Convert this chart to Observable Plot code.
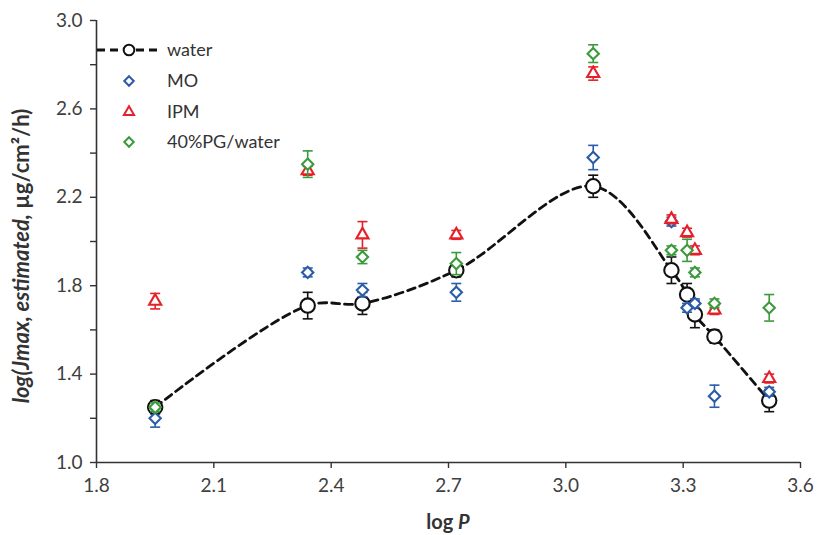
<!DOCTYPE html>
<html><head><meta charset="utf-8">
<script src="https://cdn.jsdelivr.net/npm/d3@7"></script>
<script src="https://cdn.jsdelivr.net/npm/@observablehq/plot@0.6"></script>
<style>
body{margin:0;background:#fff;}
#chart{width:823px;height:535px;}
</style>
</head><body><div id="chart"></div>
<script>
const logP = [1.95, 2.34, 2.48, 2.72, 3.07, 3.27, 3.31, 3.33, 3.38, 3.52];
const water = [1.25, 1.71, 1.72, 1.87, 2.25, 1.87, 1.76, 1.67, 1.57, 1.28];
const waterErr = [0.03, 0.06, 0.05, 0.03, 0.05, 0.06, 0.05, 0.06, 0.03, 0.05];
const mo = [1.20, 1.86, 1.78, 1.77, 2.38, 2.09, 1.70, 1.72, 1.30, 1.32];
const moErr = [0.04, 0.02, 0.03, 0.04, 0.055, 0.02, 0.02, 0.02, 0.05, 0.02];
const ipm = [1.73, 2.32, 2.03, 2.03, 2.76, 2.10, 2.04, 1.96, 1.69, 1.38];
const ipmErr = [0.035, 0.02, 0.06, 0.02, 0.03, 0.02, 0.02, 0.02, 0.02, 0.02];
const pg = [1.25, 2.35, 1.93, 1.90, 2.85, 1.96, 1.96, 1.86, 1.72, 1.70];
const pgErr = [0.02, 0.06, 0.03, 0.05, 0.04, 0.02, 0.05, 0.02, 0.02, 0.06];
const seriesNames = ["water", "MO", "IPM", "40%PG/water"];
const xTicks = [1.8, 2.1, 2.4, 2.7, 3.0, 3.3, 3.6];
const yTicks = [1.0, 1.4, 1.8, 2.2, 2.6, 3.0];
const yMinor = [1.2, 1.6, 2.0, 2.4, 2.8];

const colors = {water: "#111111", MO: "#2b5ca8", IPM: "#e5202a", "40%PG/water": "#3b9a3b"};
const symbols = {water: "circle", MO: "diamond2", IPM: "triangle2", "40%PG/water": "diamond2"};
const radii = {water: 7.2, MO: 5.1, IPM: 5.8, "40%PG/water": 5.1};
const FONT = "Lato, 'Open Sans', sans-serif";

function rows(name, vals, errs) {
  return logP.map((x, i) => ({series: name, x, y: vals[i], lo: vals[i] - errs[i], hi: vals[i] + errs[i]}));
}
const all = [
  rows("water", water, waterErr),
  rows("MO", mo, moErr),
  rows("IPM", ipm, ipmErr),
  rows("40%PG/water", pg, pgErr)
];

const cap = {draw(ctx) { ctx.moveTo(-5, 0); ctx.lineTo(5, 0); }};

const marks = [
  Plot.ruleX([1.8], {stroke: "#333", strokeWidth: 1.6}),
  Plot.ruleY([1.0], {stroke: "#333", strokeWidth: 1.6}),
  Plot.axisX({ticks: xTicks, tickFormat: ".1f", tickSize: 6, tickPadding: 10, stroke: "#333", strokeWidth: 1.4, label: null}),
  Plot.axisY({ticks: yTicks, tickFormat: ".1f", tickSize: 6, tickPadding: 8, stroke: "#333", strokeWidth: 1.4, label: null}),
  Plot.axisY({ticks: yMinor, tickFormat: () => "", tickSize: 6, stroke: "#333", strokeWidth: 1.4, label: null}),
  Plot.line(all[0], {x: "x", y: "y", curve: "catmull-rom", stroke: "#111", strokeWidth: 2.8, strokeDasharray: "8,5"})
];
for (const data of all) {
  const name = data[0].series;
  const c = colors[name];
  marks.push(
    Plot.ruleX(data, {x: "x", y1: "lo", y2: "hi", stroke: c, strokeWidth: 1.6}),
    Plot.dot(data, {x: "x", y: "lo", symbol: cap, stroke: c, strokeWidth: 1.6}),
    Plot.dot(data, {x: "x", y: "hi", symbol: cap, stroke: c, strokeWidth: 1.6}),
    Plot.dot(data, {x: "x", y: "y", symbol: symbols[name], r: radii[name], stroke: c, fill: "white", strokeWidth: 2.1})
  );
}

const plot = Plot.plot({
  width: 823,
  height: 535,
  marginLeft: 96,
  marginRight: 23,
  marginTop: 20,
  marginBottom: 73,
  style: {fontFamily: FONT, fontSize: "19px", color: "#404040", background: "white"},
  x: {domain: [1.8, 3.6]},
  y: {domain: [1.0, 3.0]},
  marks
});
document.getElementById("chart").appendChild(plot);

const svg = d3.select(plot);

// axis titles
svg.append("text")
  .attr("x", 448).attr("y", 529)
  .attr("text-anchor", "middle")
  .attr("font-family", FONT)
  .attr("font-size", 20).attr("font-weight", "bold").attr("fill", "#333")
  .html('log <tspan font-style="italic">P</tspan>');
svg.append("text")
  .attr("transform", "translate(29,256) rotate(-90)")
  .attr("text-anchor", "middle")
  .attr("font-family", FONT)
  .attr("font-size", 22).attr("font-weight", "bold").attr("fill", "#333")
  .html('<tspan font-style="italic">log(Jmax, estimated,</tspan> µg/cm²/h)');

// legend
const lg = svg.append("g").attr("font-family", FONT).attr("font-size", 18).attr("fill", "#333").attr("text-anchor", "start");
const rowsY = [50, 81, 112, 142];
seriesNames.forEach((name, i) => {
  const y = rowsY[i];
  if (name === "water") {
    lg.append("line").attr("x1", 97).attr("x2", 161).attr("y1", y).attr("y2", y)
      .attr("stroke", "#111").attr("stroke-width", 2.8).attr("stroke-dasharray", "8,5");
  }
  const sym = {circle: d3.symbolCircle, diamond2: d3.symbolDiamond2, triangle2: d3.symbolTriangle2}[symbols[name]];
  lg.append("path").attr("transform", `translate(129,${y})`)
    .attr("d", d3.symbol(sym, Math.PI * radii[name] * radii[name] * (name === "water" ? 0.55 : 0.7))())
    .attr("fill", "white").attr("stroke", colors[name]).attr("stroke-width", 2);
  lg.append("text").attr("x", 167).attr("y", y).attr("dy", "0.35em").text(name);
});
</script>
</body></html>
